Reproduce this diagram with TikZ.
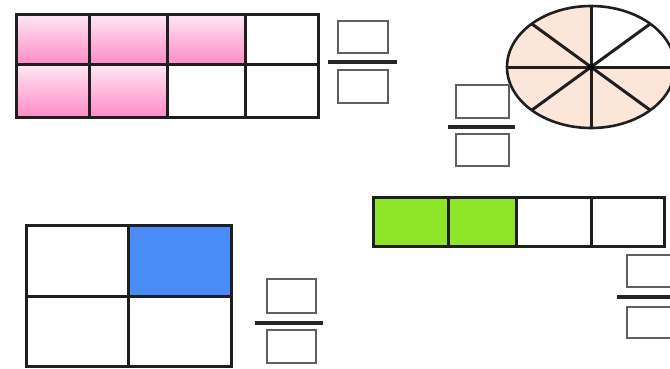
\documentclass[tikz,border=0pt]{standalone}
\definecolor{pinktop}{RGB}{255,232,244}
\definecolor{pinkbot}{RGB}{255,140,198}
\definecolor{peach}{RGB}{252,230,218}
\definecolor{cellblue}{RGB}{74,140,247}
\definecolor{cellgreen}{RGB}{143,229,42}
\definecolor{boxgray}{RGB}{95,95,95}
\begin{document}
\begin{tikzpicture}[x=1pt,y=-1pt,
  gridline/.style={line width=3pt,black!88,line cap=rect},
  pinkcell/.style={top color=pinktop,bottom color=pinkbot,draw=none},
  fracbox/.style={draw=boxgray,line width=2.3pt,fill=white},
  fracbar/.style={line width=3.2pt,black!85}]
\useasboundingbox (0,0) rectangle (670,368);
\clip (0,0) rectangle (670,368);
% ---------- top-left grid (5/8) ----------
\shade[pinkcell] (16,14) rectangle (89,64);
\shade[pinkcell] (89,14) rectangle (167,64);
\shade[pinkcell] (167,14) rectangle (245,64);
\shade[pinkcell] (16,64) rectangle (89,117);
\shade[pinkcell] (89,64) rectangle (167,117);
\draw[gridline] (16,14) rectangle (318,117);
\draw[gridline] (16,64) -- (318,64);
\draw[gridline] (89,14) -- (89,117);
\draw[gridline] (167,14) -- (167,117);
\draw[gridline] (245,14) -- (245,117);
\draw[fracbox] (338,21) rectangle (388,53);
\draw[fracbar] (328,62) -- (397,62);
\draw[fracbox] (338,70) rectangle (388,103);
% ---------- ellipse (6/8) ----------
\begin{scope}
\clip (591,67) ellipse [x radius=84,y radius=61];
\fill[peach] (591,67) ellipse [x radius=84,y radius=61];
\fill[white] (591,67) rectangle (680,0);
\end{scope}
\draw[line width=2.6pt,black!88] (591,67) ellipse [x radius=84,y radius=61];
\draw[gridline,line cap=butt] (591,6) -- (591,128);
\draw[gridline,line cap=butt] (507,67) -- (675,67);
\draw[gridline,line cap=butt] (532,24) -- (650,110);
\draw[gridline,line cap=butt] (532,110) -- (650,24);
\fill[black] (591,67) circle (3.5);
\draw[fracbox] (456,85) rectangle (509,118);
\draw[fracbar] (448,127) -- (515,127);
\draw[fracbox] (456,134) rectangle (509,166);
% ---------- bottom-left grid (1/4) ----------
\fill[cellblue] (128,225) rectangle (231,296);
\draw[gridline] (26,225) rectangle (231,366);
\draw[gridline] (26,296) -- (231,296);
\draw[gridline] (128,225) -- (128,366);
\draw[fracbox] (267,279) rectangle (316,313);
\draw[fracbar] (255,323) -- (323,323);
\draw[fracbox] (267,330) rectangle (316,363);
% ---------- green strip (2/4) ----------
\fill[cellgreen] (373,197) rectangle (516,246);
\draw[gridline] (373,197) rectangle (664,246);
\draw[gridline] (448,197) -- (448,246);
\draw[gridline] (516,197) -- (516,246);
\draw[gridline] (591,197) -- (591,246);
\draw[fracbox] (627,255) rectangle (678,287);
\draw[fracbar] (617,297) -- (680,297);
\draw[fracbox] (627,307) rectangle (678,338);
\end{tikzpicture}
\end{document}
